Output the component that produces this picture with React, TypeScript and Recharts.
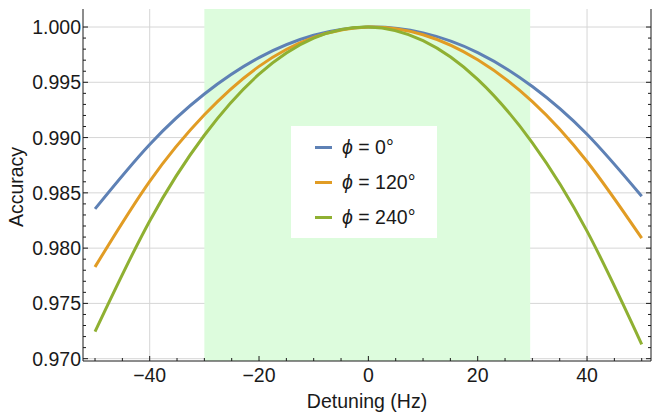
import { LineChart, Line, XAxis, YAxis, CartesianGrid, ReferenceArea, Legend } from 'recharts';

// detuning (Hz) and accuracy
const detuning = [-50, -40, -30, -20, -10, 0, 10, 20, 30, 40, 50];
const phi0 = [0.98355, 0.98938, 0.99394, 0.99723, 0.99925, 1.0, 0.99947, 0.99769, 0.99462, 0.9903, 0.98469];
const phi120 = [0.9783, 0.98604, 0.99206, 0.99644, 0.99906, 1.0, 0.9993, 0.99704, 0.99326, 0.98784, 0.9809];
const phi240 = [0.97244, 0.98246, 0.99021, 0.99573, 0.99899, 1.0, 0.99877, 0.99527, 0.98953, 0.98154, 0.9713];

const seriesNames = ['0°', '120°', '240°'];
const seriesKeys = ['phi0', 'phi120', 'phi240'];
const seriesColors = ['#5e81b5', '#e19c24', '#8fb032'];

const xMajor = [-40, -20, 0, 20, 40];
const xTicks = [-50, -45, -40, -35, -30, -25, -20, -15, -10, -5, 0, 5, 10, 15, 20, 25, 30, 35, 40, 45, 50];
const yMajor = [0.97, 0.975, 0.98, 0.985, 0.99, 0.995, 1.0];
const yTicks = [
  0.97, 0.971, 0.972, 0.973, 0.974, 0.975, 0.976, 0.977, 0.978, 0.979,
  0.98, 0.981, 0.982, 0.983, 0.984, 0.985, 0.986, 0.987, 0.988, 0.989,
  0.99, 0.991, 0.992, 0.993, 0.994, 0.995, 0.996, 0.997, 0.998, 0.999, 1.0,
];

const xDomain = [-52.2, 51.7];
const yDomain = [0.96979, 1.00163];
const band = [-30, 29.6];

const FONT = '"Liberation Sans", Arial, sans-serif';
const INK = '#1a1a1a';
const FS = 19.5;

const isMajor = (v: number, list: number[]) => list.some(m => Math.abs(m - v) < 1e-9);

const BottomTick = ({ x, y, payload }: any) => {
  const major = isMajor(payload.value, xMajor);
  return (
    <g>
      <line x1={x} x2={x} y1={y} y2={y - (major ? 5 : 3)} stroke={INK} />
      {major && (
        <text x={x} y={y + 21} textAnchor="middle" fontSize={FS} fontFamily={FONT} fill={INK}>
          {payload.value < 0 ? `\u2212${Math.abs(payload.value)}` : payload.value}
        </text>
      )}
    </g>
  );
};

const TopTick = ({ x, y, payload }: any) => {
  const major = isMajor(payload.value, xMajor);
  return <line x1={x} x2={x} y1={y} y2={y + (major ? 5 : 3)} stroke={INK} />;
};

const LeftTick = ({ x, y, payload }: any) => {
  const major = isMajor(payload.value, yMajor);
  return (
    <g>
      <line x1={x} x2={x + (major ? 5 : 3)} y1={y} y2={y} stroke={INK} />
      {major && (
        <text x={x - 2} y={y + 7} textAnchor="end" fontSize={FS} fontFamily={FONT} fill={INK}>
          {payload.value.toFixed(3)}
        </text>
      )}
    </g>
  );
};

const RightTick = ({ x, y, payload }: any) => {
  const major = isMajor(payload.value, yMajor);
  return <line x1={x} x2={x - (major ? 5 : 3)} y1={y} y2={y} stroke={INK} />;
};

const LegendBox = () => (
  <div style={{ background: '#fff', width: 146, height: 112, paddingTop: 4, boxSizing: 'border-box', fontFamily: FONT, fontSize: FS, color: INK }}>
    {seriesNames.map((name, i) => (
      <div key={name} style={{ height: 35, display: 'flex', alignItems: 'center' }}>
        <span style={{ display: 'inline-block', marginLeft: 24, width: 17, height: 3.5, background: seriesColors[i] }} />
        <span style={{ marginLeft: 10, whiteSpace: 'nowrap' }}>
          <i>ϕ</i> = {name}
        </span>
      </div>
    ))}
  </div>
);

export default function App() {
  const data = detuning.map((x, i) => ({ x, phi0: phi0[i], phi120: phi120[i], phi240: phi240[i] }));

  return (
    <div style={{ position: 'absolute', left: 0, top: 0, background: '#fff' }}>
      <LineChart width={652} height={413} data={data} margin={{ top: 9, right: 0, bottom: 0, left: 0 }}>
        <CartesianGrid
          xAxisId="bottom"
          yAxisId="left"
          stroke="#d6d6d6"
          strokeWidth={1}
          verticalValues={xMajor}
          horizontalValues={yMajor}
        />
        <ReferenceArea
          xAxisId="bottom"
          yAxisId="left"
          x1={band[0]}
          x2={band[1]}
          y1={yDomain[0]}
          y2={yDomain[1]}
          fill="#ddfcdd"
          fillOpacity={1}
          stroke="none"
          ifOverflow="hidden"
        />
        <XAxis
          xAxisId="bottom"
          dataKey="x"
          type="number"
          domain={xDomain}
          ticks={xTicks}
          interval={0}
          allowDataOverflow
          height={52}
          tickSize={0}
          tickMargin={0}
          tick={<BottomTick />}
          axisLine={{ stroke: INK }}
          label={() => (
            <text x={367} y={408} textAnchor="middle" fontSize={FS} fontFamily={FONT} fill={INK}>
              Detuning (Hz)
            </text>
          )}
        />
        <XAxis
          xAxisId="top"
          orientation="top"
          dataKey="x"
          type="number"
          domain={xDomain}
          ticks={xTicks}
          interval={0}
          allowDataOverflow
          height={0}
          tickSize={0}
          tickMargin={0}
          tick={<TopTick />}
          axisLine={{ stroke: INK }}
        />
        <YAxis
          yAxisId="left"
          type="number"
          domain={yDomain}
          ticks={yTicks}
          interval={0}
          allowDataOverflow
          width={83}
          tickSize={0}
          tickMargin={0}
          tick={<LeftTick />}
          axisLine={{ stroke: INK }}
          label={() => (
            <text x={23} y={187} transform="rotate(-90 23 187)" textAnchor="middle" fontSize={FS} fontFamily={FONT} fill={INK}>
              Accuracy
            </text>
          )}
        />
        <YAxis
          yAxisId="right"
          orientation="right"
          type="number"
          domain={yDomain}
          ticks={yTicks}
          interval={0}
          allowDataOverflow
          width={1}
          tickSize={0}
          tickMargin={0}
          tick={<RightTick />}
          axisLine={{ stroke: INK }}
        />
        <Legend
          layout="vertical"
          align="center"
          verticalAlign="middle"
          content={() => <LegendBox />}
          wrapperStyle={{ position: 'absolute', left: 291, top: 126, width: 146, height: 112 }}
        />
        {seriesKeys.map((k, i) => (
          <Line
            key={k}
            xAxisId="bottom"
            yAxisId="left"
            dataKey={k}
            type="natural"
            stroke={seriesColors[i]}
            strokeWidth={3}
            dot={false}
            isAnimationActive={false}
          />
        ))}
      </LineChart>
    </div>
  );
}
